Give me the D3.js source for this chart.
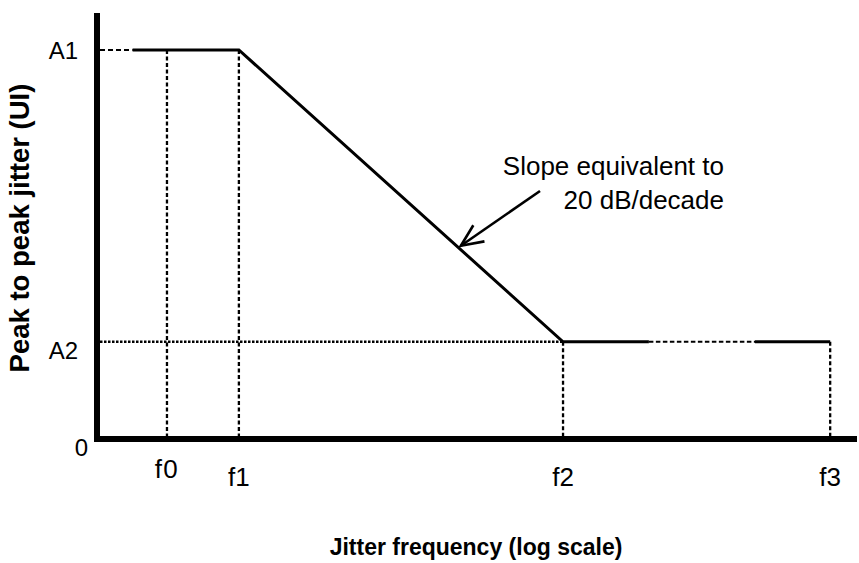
<!DOCTYPE html>
<html>
<head>
<meta charset="utf-8">
<script src="https://cdn.jsdelivr.net/npm/d3@7"></script>
<style>
  html, body { margin: 0; padding: 0; background: #fff; }
  svg { display: block; }
  text { font-family: "Liberation Sans", Arial, Helvetica, sans-serif; fill: #000; }
</style>
</head>
<body>
<svg id="chart" width="859" height="563"></svg>
<script>
// Jitter tolerance mask: frequency corners (arbitrary log units) and amplitude levels (UI)
const freqLabels = ["f0", "f1", "f2", "f3"];
const freqValues = [60, 100, 1000, 6670];
const ampLabels = ["A1", "A2", "0"];
const ampValues = [1, 0.25, 0];
// Mask outline: start of the flat A1 section, then f1 -> f2 slope, then flat A2 to f3
const maskStartFreq = 47;
// Section of the A2 plateau drawn as a dashed break
const breakFreqs = [1840, 3910];
// Point on the slope that the annotation arrow points to
const arrowFreq = 484;
const annotationLines = ["Slope equivalent to", "20 dB/decade"];
const xTitle = "Jitter frequency (log scale)";
const yTitle = "Peak to peak jitter (UI)";

const svg = d3.select("#chart");

const x = d3.scaleLog().domain([36.5, 8070]).range([97, 857]);
const y = d3.scaleLinear().domain([0, 1.095]).range([439, 13]);

const [f0, f1, f2, f3] = freqValues;
const [A1, A2] = ampValues;

const line = d3.line().x(d => x(d[0])).y(d => y(d[1]));

// helper lines (dashed / dotted guides)
const guides = svg.append("g").attr("stroke", "#000").attr("fill", "none");

// A1 leader from the axis to the start of the mask
guides.append("path")
  .attr("d", line([[x.invert(100), A1], [maskStartFreq, A1]]))
  .attr("stroke-width", 2)
  .attr("stroke-dasharray", "5,3");

// A2 dotted reference
guides.append("path")
  .attr("d", line([[x.invert(100), A2], [f2, A2]]))
  .attr("stroke-width", 2.4)
  .attr("stroke-dasharray", "2.5,1.5");

// vertical drop lines
[[f0, A1], [f1, A1], [f2, A2], [f3, A2]].forEach(([f, a]) => {
  guides.append("path")
    .attr("d", line([[f, a], [f, 0]]))
    .attr("stroke-width", 2.3)
    .attr("stroke-dasharray", "4,2.5");
});

// dashed break on the A2 plateau
guides.append("path")
  .attr("d", line([[breakFreqs[0], A2], [breakFreqs[1], A2]]))
  .attr("stroke-width", 2.2)
  .attr("stroke-dasharray", "4.5,2.5");

// mask outline (solid)
const mask = svg.append("g").attr("stroke", "#000").attr("fill", "none")
  .attr("stroke-width", 3).attr("stroke-linejoin", "miter");
mask.append("path")
  .attr("d", line([[maskStartFreq, A1], [f1, A1], [f2, A2], [breakFreqs[0], A2]]));
mask.append("path")
  .attr("d", line([[breakFreqs[1], A2], [f3, A2]]));

// axes
svg.append("line")
  .attr("x1", x.range()[0]).attr("x2", x.range()[0])
  .attr("y1", y.range()[1]).attr("y2", y(0) + 3)
  .attr("stroke", "#000").attr("stroke-width", 6);
svg.append("line")
  .attr("x1", x.range()[0] - 3).attr("x2", x.range()[1])
  .attr("y1", y(0)).attr("y2", y(0))
  .attr("stroke", "#000").attr("stroke-width", 6);

// amplitude labels
const ampX = [78, 78, 88];
const ampDy = [9, 17, 17];
ampLabels.forEach((lab, i) => {
  svg.append("text")
    .attr("x", ampX[i])
    .attr("y", y(ampValues[i]) + ampDy[i])
    .attr("text-anchor", "end")
    .attr("font-size", 24)
    .text(lab);
});

// frequency labels
const freqBaseline = [478, 486, 486, 486];
freqLabels.forEach((lab, i) => {
  svg.append("text")
    .attr("x", x(freqValues[i]))
    .attr("y", freqBaseline[i])
    .attr("text-anchor", "middle")
    .attr("font-size", 26)
    .attr("letter-spacing", i === 0 ? 1.5 : 0)
    .text(lab);
});

// axis titles
svg.append("text")
  .attr("x", 476).attr("y", 555)
  .attr("text-anchor", "middle")
  .attr("font-size", 23).attr("font-weight", "bold")
  .text(xTitle);

svg.append("text")
  .attr("transform", "translate(29,228) rotate(-90)")
  .attr("text-anchor", "middle")
  .attr("font-size", 27.5).attr("font-weight", "bold")
  .text(yTitle);

// annotation
annotationLines.forEach((t, i) => {
  svg.append("text")
    .attr("x", 724).attr("y", 175 + i * 34)
    .attr("text-anchor", "end")
    .attr("font-size", 26)
    .text(t);
});

// arrow pointing at the slope
const tipX = x(arrowFreq);
const t = (Math.log10(arrowFreq) - Math.log10(f1)) / (Math.log10(f2) - Math.log10(f1));
const tipY = y(A1 + t * (A2 - A1)) - 4;
const startX = 540, startY = 191;
const ang = Math.atan2(startY - tipY, startX - tipX);
const headLen = 24, headSpread = 0.42;
const arrow = svg.append("g").attr("stroke", "#000").attr("fill", "none")
  .attr("stroke-width", 2.6).attr("stroke-linecap", "butt");
arrow.append("line")
  .attr("x1", startX).attr("y1", startY)
  .attr("x2", tipX).attr("y2", tipY);
arrow.append("path")
  .attr("d", `M${tipX + headLen * Math.cos(ang + headSpread)},${tipY + headLen * Math.sin(ang + headSpread)}
              L${tipX},${tipY}
              L${tipX + headLen * Math.cos(ang - headSpread)},${tipY + headLen * Math.sin(ang - headSpread)}`);
</script>
</body>
</html>
